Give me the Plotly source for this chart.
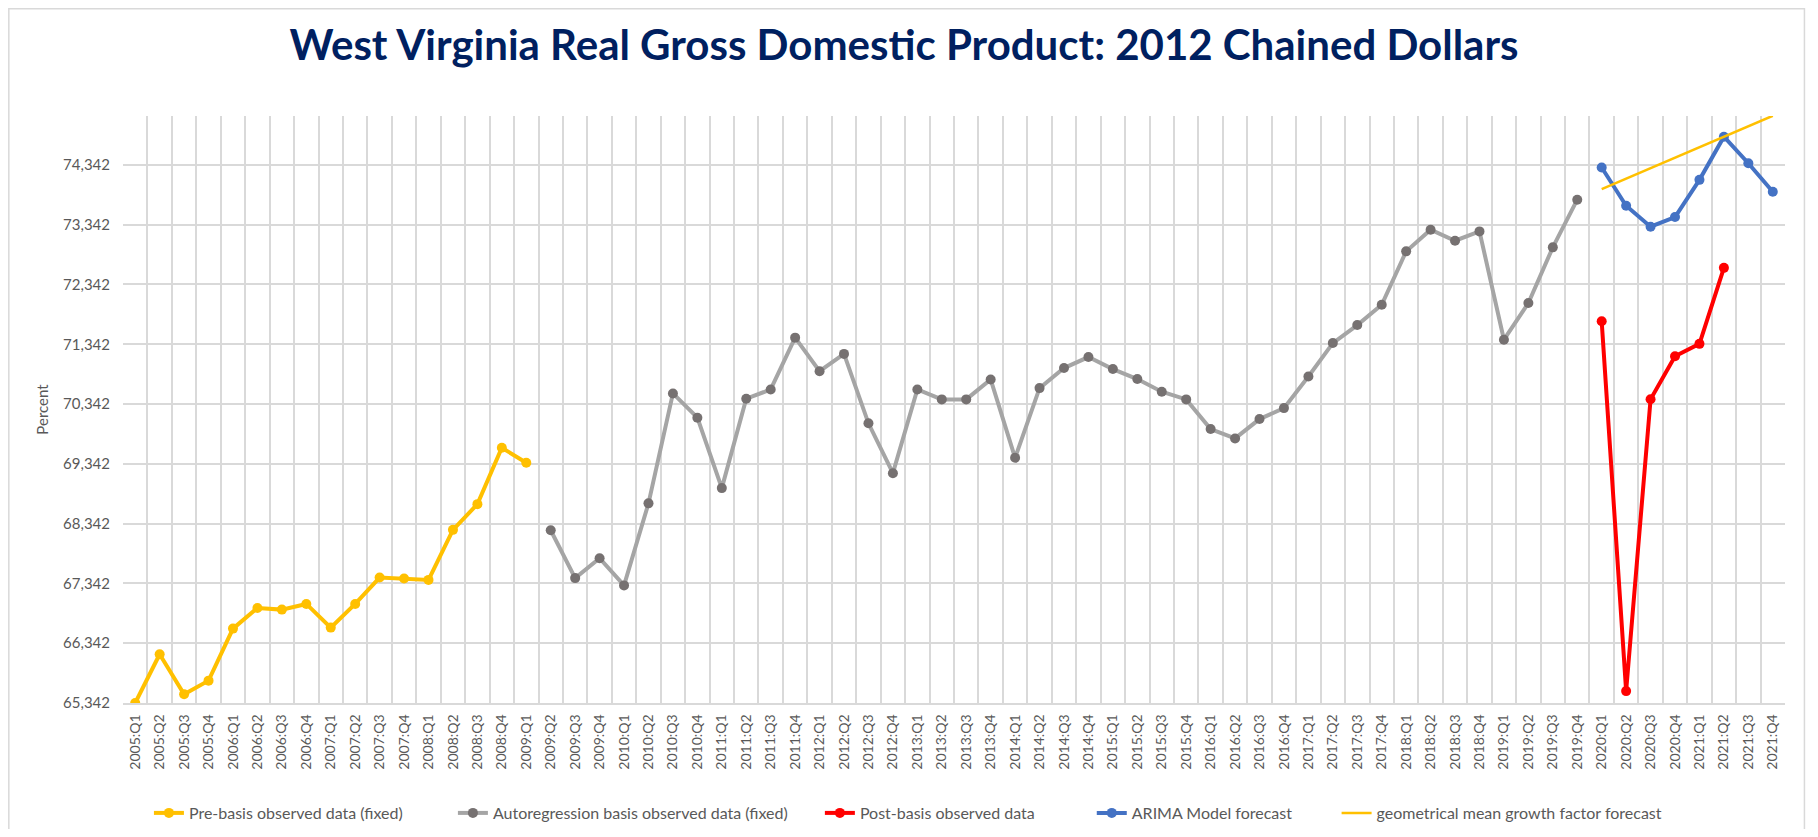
import plotly.graph_objects as go

years = list(range(2005, 2022))
quarters = [f"{y}:Q{q}" for y in years for q in range(1, 5)]

pre_basis = [65342, 66157, 65487, 65716, 66586, 66932, 66904, 66999, 66603, 66999,
             67440, 67423, 67401, 68238, 68668, 69611, 69360]
autoreg = [68231, 67431, 67764, 67309, 68681, 70520, 70114, 68936, 70431, 70586,
           71453, 70892, 71181, 70020, 69186, 70586, 70420, 70420, 70753, 69443,
           70609, 70944, 71128, 70927, 70760, 70548, 70420, 69924, 69767, 70091,
           70274, 70804, 71362, 71663, 72003, 72896, 73258, 73074, 73230, 71418,
           72031, 72963, 73760]
post_basis = [71726, 65541, 70422, 71143, 71349, 72620]
arima = [74298, 73659, 73309, 73470, 74092, 74814, 74370, 73892]
geo_mean = [73936, 74110, 74285, 74460, 74635, 74811, 74987, 75164]

y_ticks = [65342 + 1000 * i for i in range(10)]
y_tick_text = [f"{v:,}" for v in y_ticks]

x_pre = quarters[0:17]
x_auto = quarters[17:60]
x_post = quarters[60:66]
x_fc = quarters[60:68]

FONT = "Lato"
fig = go.Figure()
fig.add_trace(go.Scatter(x=x_pre, y=pre_basis, mode="lines+markers",
                         name="Pre-basis observed data (fixed)", legend="legend",
                         line=dict(color="#FFC000", width=4),
                         marker=dict(color="#FFC000", size=10)))
fig.add_trace(go.Scatter(x=x_auto, y=autoreg, mode="lines+markers",
                         name="Autoregression basis observed data (fixed)", legend="legend2",
                         line=dict(color="#A5A5A5", width=4),
                         marker=dict(color="#767171", size=10)))
fig.add_trace(go.Scatter(x=x_post, y=post_basis, mode="lines+markers",
                         name="Post-basis observed data", legend="legend3",
                         line=dict(color="#FF0000", width=4),
                         marker=dict(color="#FF0000", size=10)))
fig.add_trace(go.Scatter(x=x_fc, y=arima, mode="lines+markers",
                         name="ARIMA Model forecast", legend="legend4",
                         line=dict(color="#4472C4", width=4),
                         marker=dict(color="#4472C4", size=10)))
fig.add_trace(go.Scatter(x=x_fc, y=geo_mean, mode="lines",
                         name="geometrical mean growth factor forecast", legend="legend5",
                         line=dict(color="#FFC000", width=2.5)))

def leg(x):
    return dict(orientation="h", x=x, xanchor="left", y=-0.1874, yanchor="middle",
                font=dict(family=FONT, size=16, color="#595959"),
                bgcolor="rgba(0,0,0,0)")

fig.update_layout(
    width=1802, height=821,
    paper_bgcolor="white", plot_bgcolor="white",
    margin=dict(l=115, r=24.5, t=108, b=126, autoexpand=False),
    font=dict(family=FONT, size=15, color="#595959"),
    title=dict(text="<b>West Virginia Real Gross Domestic Product: 2012 Chained Dollars</b>",
               x=0.4972, xanchor="center", y=0.955, yanchor="middle",
               font=dict(family=FONT, size=42, color="#002060")),
    legend=leg(0.0156), legend2=leg(0.1985), legend3=leg(0.4193),
    legend4=leg(0.5829), legend5=leg(0.7302),
    showlegend=True,
)
fig.update_xaxes(
    type="category", categoryorder="array", categoryarray=quarters,
    tickson="boundaries", showgrid=True, gridcolor="#D9D9D9", gridwidth=1.5,
    showline=True, linecolor="#D9D9D9", linewidth=1.5,
    ticks="", tickangle=-90, tickfont=dict(family=FONT, size=14, color="#595959"),
    range=[-0.5, 67.5], automargin=False, ticklabelstandoff=4,
)
fig.update_yaxes(
    range=[65342, 75160], tickvals=y_ticks, ticktext=y_tick_text,
    showgrid=True, gridcolor="#D9D9D9", gridwidth=1.5, zeroline=False,
    showline=False, ticks="", tickfont=dict(family=FONT, size=15, color="#595959"),
    automargin=False, ticklabelstandoff=12,
    title=dict(text="Percent", font=dict(family=FONT, size=15, color="#595959"), standoff=10),
)
# chart-area border
fig.add_shape(type="rect", xref="paper", yref="paper", x0=-0.0687, x1=1.0117, y0=-0.22, y1=1.1827,
              line=dict(color="#D9D9D9", width=1.5), fillcolor="rgba(0,0,0,0)", layer="below")

fig.write_html("out.html")
